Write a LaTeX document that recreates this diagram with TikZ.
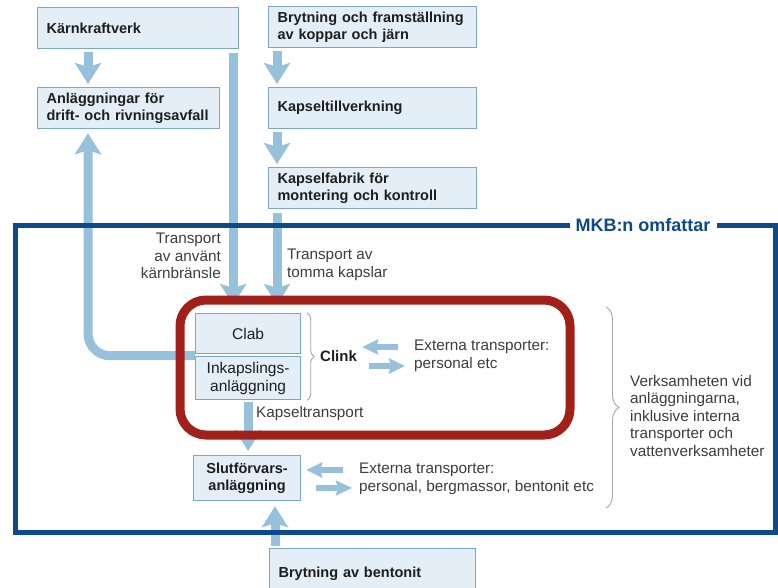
\documentclass[tikz,border=0pt]{standalone}
\usepackage{fontspec}
\setmainfont{Liberation Sans}
\usetikzlibrary{arrows.meta,positioning,calc,decorations.pathreplacing}

\definecolor{flowblue}{HTML}{97C1DB}
\definecolor{boxfill}{HTML}{E3EEF6}
\definecolor{boxline}{HTML}{7AA7C7}
\definecolor{boxtext}{HTML}{1E1E1E}
\definecolor{notegray}{HTML}{3C3C3C}
\definecolor{mkbblue}{HTML}{0C4A8A}
\definecolor{clinkred}{HTML}{A2201A}

\begin{document}
\begin{tikzpicture}[x=1pt, y=-1pt,
  box/.style={draw=boxline, line width=1.2pt, fill=boxfill, anchor=north west,
    minimum height=41pt, inner xsep=9pt, align=left, text=boxtext,
    font=\bfseries\fontsize{14.5}{17}\selectfont},
  unit/.style={draw=boxline, line width=1.2pt, fill=boxfill, anchor=north west,
    text width=87pt, inner xsep=9pt, inner ysep=2pt, align=center, text=boxtext,
    font=\fontsize{15.5}{18}\selectfont},
  note/.style={inner sep=0pt, text=notegray, font=\fontsize{15.3}{17.5}\selectfont},
  flow/.style={draw=flowblue, line width=9pt, -{Stealth[width=26pt, length=21pt, inset=4pt]}},
  side/.style={draw=flowblue, line width=5.5pt, -{Stealth[width=15pt, length=16pt, inset=2pt]}},
  brace/.style={draw=gray!70, line width=0.9pt, decorate, decoration={brace, amplitude=#1}},
]
\path[use as bounding box, clip] (0,0) rectangle (778,587);

% leverantörer
\node[box, text width=183pt] (kkv) at (37,7) {Kärnkraftverk};
\node[box, text width=164pt] (avfall) at (37,87) {Anläggningar för\\drift- och rivningsavfall};
\node[box, text width=190pt] (koppar) at (268,6) {Brytning och framställning\\av koppar och järn};
\node[box, text width=190pt] (kapsel) at (268,87) {Kapseltillverkning};
\node[box, text width=190pt] (fabrik) at (268,167) {Kapselfabrik för\\montering och kontroll};

% Clink och slutförvar
\node[unit, minimum height=40pt] (clab) at (195,313) {Clab};
\node[unit, minimum height=43pt] (inkap) at (195,356) {Inkapslings-\\anläggning};
\node[unit, text width=89pt, minimum height=45pt, font=\bfseries\fontsize{14.5}{17}\selectfont] (slut) at (193,455) {Slutförvars-\\anläggning};
\node[box, text width=188pt, minimum height=50pt] (bentonit) at (269,548) {Brytning av bentonit};

% texter
\node[note, align=right, anchor=east] (spenttxt) at (221,256) {Transport\\av använt\\kärnbränsle};
\node[note, align=left, anchor=west] (emptytxt) at (287,265) {Transport av\\tomma kapslar};
\node[note, text=boxtext, font=\bfseries\fontsize{15}{17}\selectfont, anchor=west] (clink) at (320,356) {Clink};
\node[note, align=left, anchor=west] (extA) at (414,356) {Externa transporter:\\personal etc};
\node[note, anchor=west] (capstxt) at (256,414) {Kapseltransport};
\node[note, align=left, anchor=west] (extB) at (359,479) {Externa transporter:\\personal, bergmassor, bentonit etc};
\node[note, align=left, anchor=west] (scopetxt) at (630,416) {Verksamheten vid\\anläggningarna,\\inklusive interna\\transporter och\\vattenverksamheter};

% flöden
\coordinate (leftline) at ($(kkv.south west)+(51,0)$);
\coordinate (spent) at ($(kkv.south east)+(-6,0)$);
\coordinate (caps) at ($(fabrik.south west)+(9,0)$);
\coordinate (bent) at ($(bentonit.north west)+(6,0)$);
\draw[flow] ($(leftline)+(0,3)$) -- ($(avfall.north -| leftline)+(0,-3)$);
\draw[flow, rounded corners=22pt] ($(clab.south west)+(0,1.5)$) -| ($(avfall.south -| leftline)+(0,4)$);
\draw[flow] ($(spent)+(0,4)$) -- ($(clab.north -| spent)+(0,-8)$);
\draw[flow] ($(koppar.south -| caps)+(0,3)$) -- ($(kapsel.north -| caps)+(0,-3)$);
\draw[flow] ($(kapsel.south -| caps)+(0,3)$) -- ($(fabrik.north -| caps)+(0,-3)$);
\draw[flow] ($(caps)+(0,4)$) -- ($(clab.north -| caps)+(0,-8)$);
\draw[flow] ($(inkap.south)+(0,2)$) -- ($(slut.north -| inkap.south)+(0,-4)$);
\draw[flow] ($(bent)+(0,-2)$) -- ($(slut.south -| bent)+(0,5)$);

% externa transporter
\draw[side] ($(extA.west)+(-16,-9)$) -- ($(clink.east |- extA.west)+(5,-9)$);
\draw[side] ($(clink.east |- extA.west)+(12,10)$) -- ($(extA.west)+(-9,10)$);
\draw[side] ($(extB.west)+(-16,-9)$) -- ($(slut.east |- extB.west)+(5,-9)$);
\draw[side] ($(slut.east |- extB.west)+(15,9)$) -- ($(extB.west)+(-7,9)$);

% klamrar
\draw[brace=7pt] ($(clab.north east)+(6,0)$) -- ($(inkap.south east)+(6,0)$);
\draw[brace=13pt] (606,307) -- (606,508);

% ramar
\draw[draw=mkbblue, line width=5pt] (15,225) rectangle (775,532);
\node[fill=white, inner xsep=6pt, inner ysep=1pt, text=mkbblue, font=\bfseries\fontsize{18}{20}\selectfont] (mkb) at (643,225) {MKB:n omfattar};
\draw[draw=clinkred, line width=9pt, rounded corners=26pt] (180,300) rectangle (570,435);
\end{tikzpicture}
\end{document}
